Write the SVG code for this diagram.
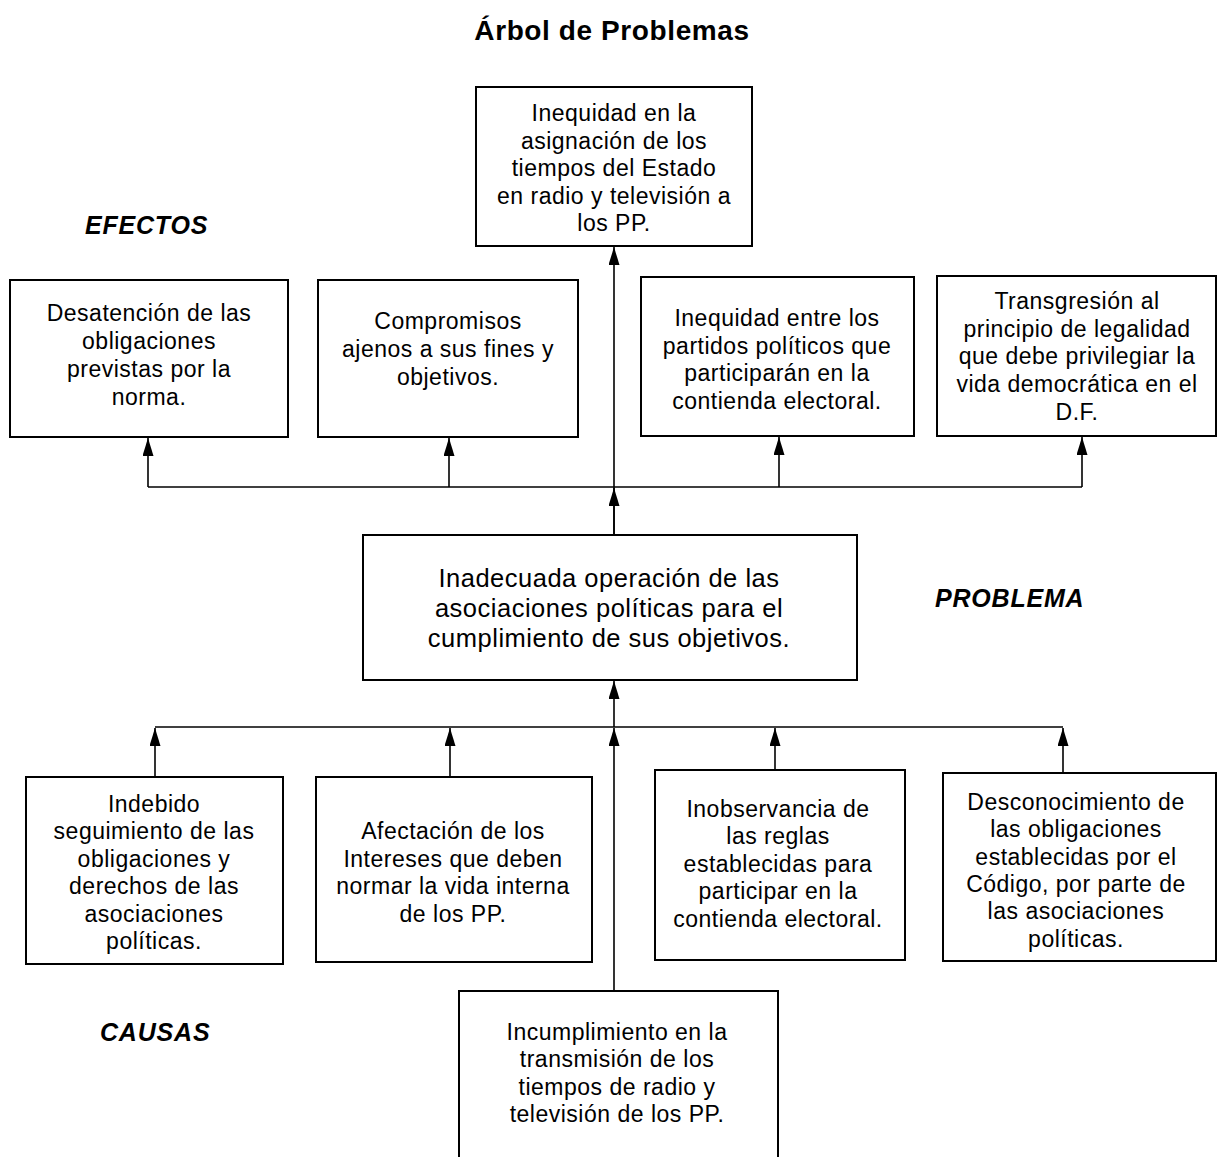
<svg xmlns="http://www.w3.org/2000/svg" width="1218" height="1157" viewBox="0 0 1218 1157">
<defs>
<style>
.box{fill:#fff;stroke:#000;stroke-width:2}
.t{font-family:"Liberation Sans",Arial,sans-serif;font-size:23px;letter-spacing:0.5px;text-anchor:middle;fill:#000}
.tp{font-family:"Liberation Sans",Arial,sans-serif;font-size:25.5px;letter-spacing:0.5px;text-anchor:middle;fill:#000}
.lbl{font-family:"Liberation Sans",Arial,sans-serif;font-size:25px;letter-spacing:0.8px;font-weight:bold;font-style:italic;fill:#000}
.ttl{font-family:"Liberation Sans",Arial,sans-serif;font-size:28px;letter-spacing:0.6px;font-weight:bold;text-anchor:middle;fill:#000}
.ln{stroke:#000;stroke-width:1.6;fill:none}
</style>
<marker id="ah" viewBox="0 0 18 11" refX="18" refY="5.5" markerWidth="18" markerHeight="11" markerUnits="userSpaceOnUse" orient="auto">
<path d="M0,0 L18,5.5 L0,11 Z" fill="#000"/>
</marker>
</defs>
<rect width="1218" height="1157" fill="#fff"/>
<text class="ttl" x="612" y="40">Árbol de Problemas</text>
<text class="lbl" x="85" y="234">EFECTOS</text>
<text class="lbl" x="935" y="607">PROBLEMA</text>
<text class="lbl" x="100" y="1041">CAUSAS</text>

<g id="connectors">
<path class="ln" d="M148,487 H1082"/>
<path class="ln" d="M614,535 V247" marker-end="url(#ah)"/>
<path class="ln" d="M614,535 V488" marker-end="url(#ah)"/>
<path class="ln" d="M148,487 V438" marker-end="url(#ah)"/>
<path class="ln" d="M449,487 V438" marker-end="url(#ah)"/>
<path class="ln" d="M779,487 V437" marker-end="url(#ah)"/>
<path class="ln" d="M1082,487 V437" marker-end="url(#ah)"/>
<path class="ln" d="M155,727 H1063"/>
<path class="ln" d="M614,727 V681" marker-end="url(#ah)"/>
<path class="ln" d="M155,777 V728" marker-end="url(#ah)"/>
<path class="ln" d="M450,777 V728" marker-end="url(#ah)"/>
<path class="ln" d="M614,991 V728" marker-end="url(#ah)"/>
<path class="ln" d="M775,770 V728" marker-end="url(#ah)"/>
<path class="ln" d="M1063,773 V728" marker-end="url(#ah)"/>
</g>

<g id="top">
<rect class="box" x="476" y="87" width="276" height="159"/>
<text class="t" x="614" y="121">Inequidad en la</text>
<text class="t" x="614" y="149">asignación de los</text>
<text class="t" x="614" y="176">tiempos del Estado</text>
<text class="t" x="614" y="204">en radio y televisión a</text>
<text class="t" x="614" y="231">los PP.</text>
</g>

<g id="e1">
<rect class="box" x="10" y="280" width="278" height="157"/>
<text class="t" x="149" y="321">Desatención de las</text>
<text class="t" x="149" y="349">obligaciones</text>
<text class="t" x="149" y="377">previstas por la</text>
<text class="t" x="149" y="405">norma.</text>
</g>
<g id="e2">
<rect class="box" x="318" y="280" width="260" height="157"/>
<text class="t" x="448" y="329">Compromisos</text>
<text class="t" x="448" y="357">ajenos a sus fines y</text>
<text class="t" x="448" y="385">objetivos.</text>
</g>
<g id="e3">
<rect class="box" x="641" y="277" width="273" height="159"/>
<text class="t" x="777" y="326">Inequidad entre los</text>
<text class="t" x="777" y="354">partidos políticos que</text>
<text class="t" x="777" y="381">participarán en la</text>
<text class="t" x="777" y="409">contienda electoral.</text>
</g>
<g id="e4">
<rect class="box" x="937" y="276" width="279" height="160"/>
<text class="t" x="1077" y="309">Transgresión al</text>
<text class="t" x="1077" y="337">principio de legalidad</text>
<text class="t" x="1077" y="364">que debe privilegiar la</text>
<text class="t" x="1077" y="392">vida democrática en el</text>
<text class="t" x="1077" y="420">D.F.</text>
</g>

<g id="problem">
<rect class="box" x="363" y="535" width="494" height="145"/>
<text class="tp" x="609" y="587">Inadecuada operación de las</text>
<text class="tp" x="609" y="617">asociaciones políticas para el</text>
<text class="tp" x="609" y="647">cumplimiento de sus objetivos.</text>
</g>

<g id="c1">
<rect class="box" x="26" y="777" width="257" height="187"/>
<text class="t" x="154" y="812">Indebido</text>
<text class="t" x="154" y="839">seguimiento de las</text>
<text class="t" x="154" y="867">obligaciones y</text>
<text class="t" x="154" y="894">derechos de las</text>
<text class="t" x="154" y="922">asociaciones</text>
<text class="t" x="154" y="949">políticas.</text>
</g>
<g id="c2">
<rect class="box" x="316" y="777" width="276" height="185"/>
<text class="t" x="453" y="839">Afectación de los</text>
<text class="t" x="453" y="867">Intereses que deben</text>
<text class="t" x="453" y="894">normar la vida interna</text>
<text class="t" x="453" y="922">de los PP.</text>
</g>
<g id="c3">
<rect class="box" x="655" y="770" width="250" height="190"/>
<text class="t" x="778" y="817">Inobservancia de</text>
<text class="t" x="778" y="844">las reglas</text>
<text class="t" x="778" y="872">establecidas para</text>
<text class="t" x="778" y="899">participar en la</text>
<text class="t" x="778" y="927">contienda electoral.</text>
</g>
<g id="c4">
<rect class="box" x="943" y="773" width="273" height="188"/>
<text class="t" x="1076" y="810">Desconocimiento de</text>
<text class="t" x="1076" y="837">las obligaciones</text>
<text class="t" x="1076" y="865">establecidas por el</text>
<text class="t" x="1076" y="892">Código, por parte de</text>
<text class="t" x="1076" y="919">las asociaciones</text>
<text class="t" x="1076" y="947">políticas.</text>
</g>
<g id="c5">
<rect class="box" x="459" y="991" width="319" height="170"/>
<text class="t" x="617" y="1040">Incumplimiento en la</text>
<text class="t" x="617" y="1067">transmisión de los</text>
<text class="t" x="617" y="1095">tiempos de radio y</text>
<text class="t" x="617" y="1122">televisión de los PP.</text>
</g>
</svg>
